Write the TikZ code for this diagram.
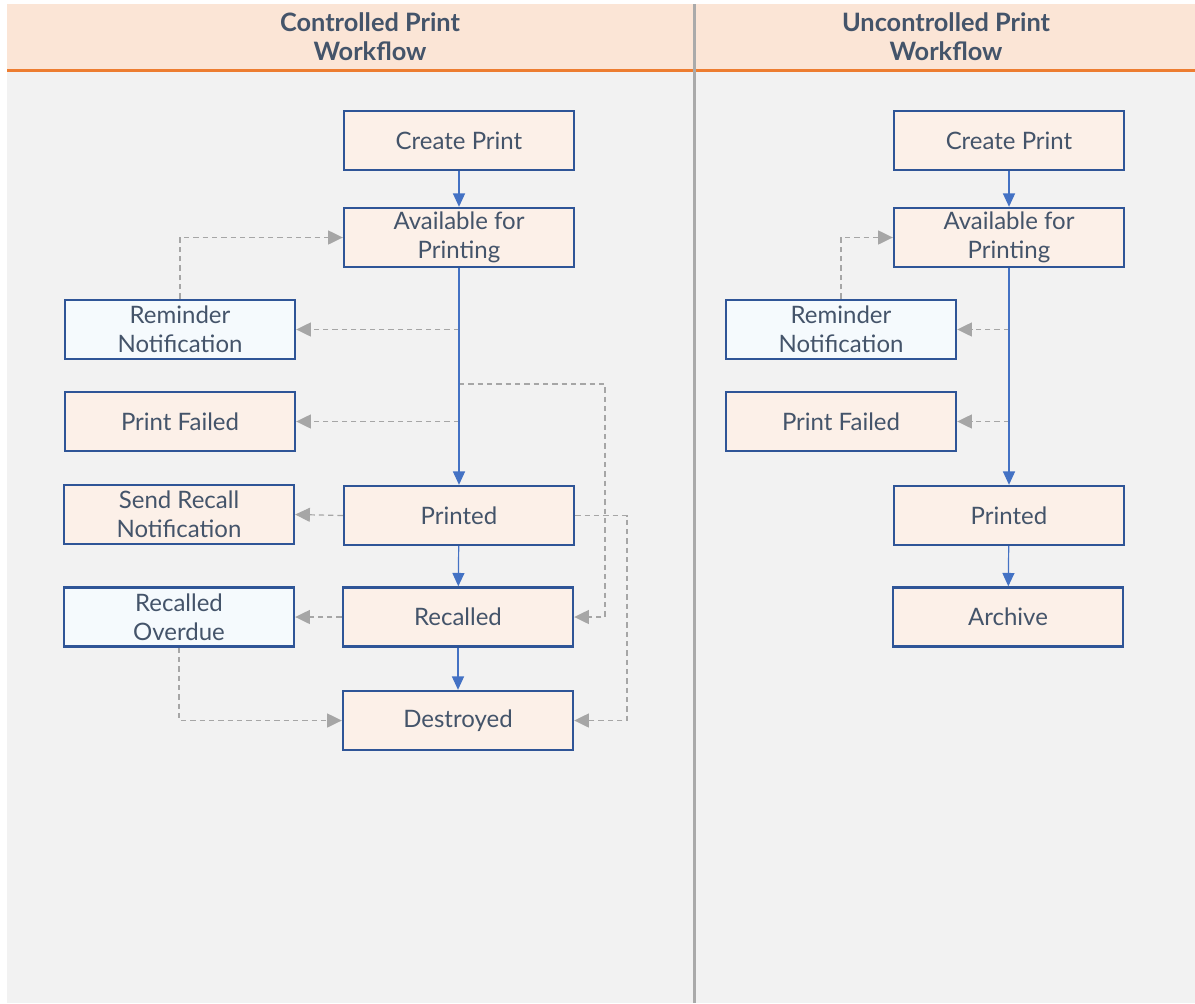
\documentclass[tikz,border=0pt]{standalone}
\usepackage{fontspec}
\setmainfont{Lato}
\usetikzlibrary{arrows.meta}
\definecolor{hdrfill}{RGB}{251,229,214}
\definecolor{hdrline}{RGB}{237,125,49}
\definecolor{bgfill}{RGB}{242,242,242}
\definecolor{divider}{RGB}{170,170,170}
\definecolor{boxline}{RGB}{47,85,151}
\definecolor{boxfill}{RGB}{252,240,232}
\definecolor{notefill}{RGB}{245,250,253}
\definecolor{txt}{RGB}{68,84,106}
\definecolor{flow}{RGB}{68,114,196}
\definecolor{side}{RGB}{166,166,166}

\begin{document}
\begin{tikzpicture}[x=0.75pt,y=0.75pt,yscale=-1,xscale=1,
  state/.style={draw=boxline,line width=1.8pt,fill=boxfill,text=txt,minimum width=172.5pt,minimum height=44.25pt,align=center,inner sep=0pt,font=\fontsize{18}{21.75}\selectfont},
  note/.style={state,fill=notefill},
  header/.style={text=txt,align=center,font=\fontsize{19}{21.75}\selectfont\bfseries},
  main/.style={draw=flow,line width=0.9pt,-{Triangle[width=9pt,length=10pt]}},
  aside/.style={draw=side,line width=0.9pt,dash pattern=on 4pt off 3pt,-{Triangle[width=10.5pt,length=11pt]}}]
\useasboundingbox (0,0) rectangle (1195,1003);

% lanes
\fill[bgfill] (7,4) rectangle (1195,1003);
\fill[hdrfill] (7,4) rectangle (1195,70);
\draw[hdrline,line width=2.25pt] (7,70.5) -- (1195,70.5);
\draw[divider,line width=2.25pt] (694.5,4) -- (694.5,1003);
\draw (370,36.5) node [header] (hdrctl) {Controlled Print\\Workflow};
\draw (946,36.5) node [header] (hdrunc) {Uncontrolled Print\\Workflow};

% controlled print
\draw (459,140.5) node [state] (create) {Create Print};
\draw (459,237.5) node [state] (avail) {Available for\\Printing};
\draw (180,329.5) node [note] (remind) {Reminder\\Notification};
\draw (180,421.5) node [state] (failed) {Print Failed};
\draw (179,514.5) node [state] (sendrecall) {Send Recall\\Notification};
\draw (459,515.5) node [state] (printed) {Printed};
\draw (179,617) node [note] (overdue) {Recalled\\Overdue};
\draw (458,617) node [state] (recalled) {Recalled};
\draw (458,720.5) node [state] (destroyed) {Destroyed};

% uncontrolled print
\draw (1009,140.5) node [state] (ucreate) {Create Print};
\draw (1009,237.5) node [state] (uavail) {Available for\\Printing};
\draw (841,329.5) node [note] (uremind) {Reminder\\Notification};
\draw (841,421.5) node [state] (ufailed) {Print Failed};
\draw (1009,515.5) node [state] (uprinted) {Printed};
\draw (1008,617) node [state] (archive) {Archive};

% side paths
\draw [aside] (avail.south |- remind.east) -- (remind.east);
\draw [aside] (avail.south |- failed.east) -- (failed.east);
\draw [aside] (remind.north) |- (avail.west);
\draw [aside] (avail.south |- 0,384) -| (605,500) |- (recalled.east);
\draw [aside] (printed.west) -- (sendrecall.east);
\draw [aside] (recalled.west) -- (overdue.east);
\draw [aside] (printed.east) -| (627,600) |- (destroyed.east);
\draw [aside] (overdue.south) |- (destroyed.west);

\draw [aside] (uavail.south |- uremind.east) -- (uremind.east);
\draw [aside] (uavail.south |- ufailed.east) -- (ufailed.east);
\draw [aside] (uremind.north) |- (uavail.west);

% main flow
\draw [main] (create) -- (avail);
\draw [main] (avail) -- (printed);
\draw [main] (printed) -- (recalled);
\draw [main] (recalled) -- (destroyed);

\draw [main] (ucreate) -- (uavail);
\draw [main] (uavail) -- (uprinted);
\draw [main] (uprinted) -- (archive);
\end{tikzpicture}
\end{document}
